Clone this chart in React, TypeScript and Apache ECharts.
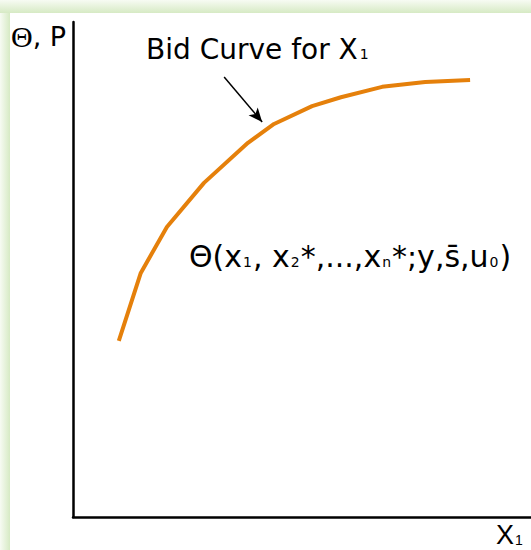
import React, { useEffect, useRef } from "react";
import * as echarts from "echarts";

const curveX = [10.0, 14.8, 20.5, 28.6, 38.2, 43.9, 52.2, 58.5, 67.5, 76.9, 86.7];
const curveY = [35.6, 49.3, 58.6, 67.5, 75.6, 79.4, 83.0, 84.8, 86.9, 87.9, 88.3];
const arrowFrom = [33.0, 88.9];
const arrowTo = [41.3, 79.8];
const yAxisLabel = "{th|Θ}{t|, P}";
const curveLabel = "{t|Bid Curve for X}{s|1}";
const formulaLabel = "{t|Θ(x}{s|1}{t|, x}{s|2}{t|*,...,x}{s|n}{t|*;y,s̄,u}{s|0}{t|)}";
const xAxisLabel = "{t|X}{s|1}";

export default function App() {
  const ref = useRef<HTMLDivElement>(null);
  useEffect(() => {
    if (!ref.current) return;
    const chart = echarts.init(ref.current, null, { renderer: "svg" });
    const data = curveX.map((x, i) => [x, curveY[i]]);
    const sans = "'DejaVu Sans'";
    chart.setOption({
      animation: false,
      backgroundColor: "#ffffff",
      grid: { left: 73, right: 0, top: 22, bottom: 33 },
      xAxis: {
        type: "value",
        min: 0,
        max: 100,
        axisLine: { show: true, lineStyle: { color: "#000", width: 2.5 } },
        axisTick: { show: false },
        axisLabel: { show: false },
        splitLine: { show: false },
      },
      yAxis: {
        type: "value",
        min: 0,
        max: 100,
        axisLine: { show: true, lineStyle: { color: "#000", width: 2.5 } },
        axisTick: { show: false },
        axisLabel: { show: false },
        splitLine: { show: false },
      },
      series: [
        {
          type: "line",
          data,
          smooth: false,
          symbol: "none",
          lineStyle: { color: "#E5800B", width: 4 },
          markLine: {
            silent: true,
            animation: false,
            symbolSize: [9, 14],
            label: { show: false },
            lineStyle: { color: "#000", width: 1.5, type: "solid" },
            data: [
              [
                { coord: arrowFrom, symbol: "none" },
                { coord: arrowTo, symbol: "arrow" },
              ],
            ],
          },
        },
      ],
      graphic: [
        {
          type: "rect",
          shape: { x: 0, y: 0, width: 531, height: 13 },
          style: {
            fill: new echarts.graphic.LinearGradient(0, 0, 0, 1, [
              { offset: 0, color: "#f7fbf3" },
              { offset: 1, color: "#d6eac4" },
            ]),
          },
          silent: true,
        },
        {
          type: "rect",
          shape: { x: 0, y: 13, width: 10, height: 537 },
          style: {
            fill: new echarts.graphic.LinearGradient(0, 0, 1, 0, [
              { offset: 0, color: "#f7fbf3" },
              { offset: 1, color: "#d6eac4" },
            ]),
          },
          silent: true,
        },
        {
          type: "text",
          left: 11,
          top: 21,
          style: {
            text: yAxisLabel,
            rich: {
              th: { fontFamily: "'Liberation Serif'", fontSize: 30, lineHeight: 30, fill: "#000" },
              t: { fontFamily: sans, fontSize: 27, lineHeight: 30, fill: "#000" },
            },
          },
        },
        {
          type: "text",
          left: 146,
          top: 35,
          style: {
            text: curveLabel,
            rich: {
              t: { fontFamily: sans, fontSize: 28, lineHeight: 32, fill: "#000", verticalAlign: "middle" },
              s: { fontFamily: sans, fontSize: 14, lineHeight: 14, fill: "#000", verticalAlign: "bottom", padding: [0, 0, 4, 2] },
            },
          },
        },
        {
          type: "text",
          left: 189,
          top: 241,
          style: {
            text: formulaLabel,
            rich: {
              t: { fontFamily: sans, fontSize: 30, lineHeight: 36, fill: "#000", verticalAlign: "middle" },
              s: { fontFamily: sans, fontSize: 14, lineHeight: 14, fill: "#000", verticalAlign: "bottom", padding: [0, 1, 5, 1] },
            },
          },
        },
        {
          type: "text",
          left: 496,
          top: 521,
          style: {
            text: xAxisLabel,
            rich: {
              t: { fontFamily: "'Liberation Sans'", fontSize: 27, lineHeight: 28, fill: "#000", verticalAlign: "middle" },
              s: { fontFamily: "'Liberation Sans'", fontSize: 14, lineHeight: 14, fill: "#000", verticalAlign: "bottom", padding: [0, 0, 2, 1] },
            },
          },
        },
      ],
    });
    return () => chart.dispose();
  }, []);
  return (
    <div
      ref={ref}
      style={{ position: "fixed", left: 0, top: 0, width: 531, height: 550 }}
    />
  );
}
